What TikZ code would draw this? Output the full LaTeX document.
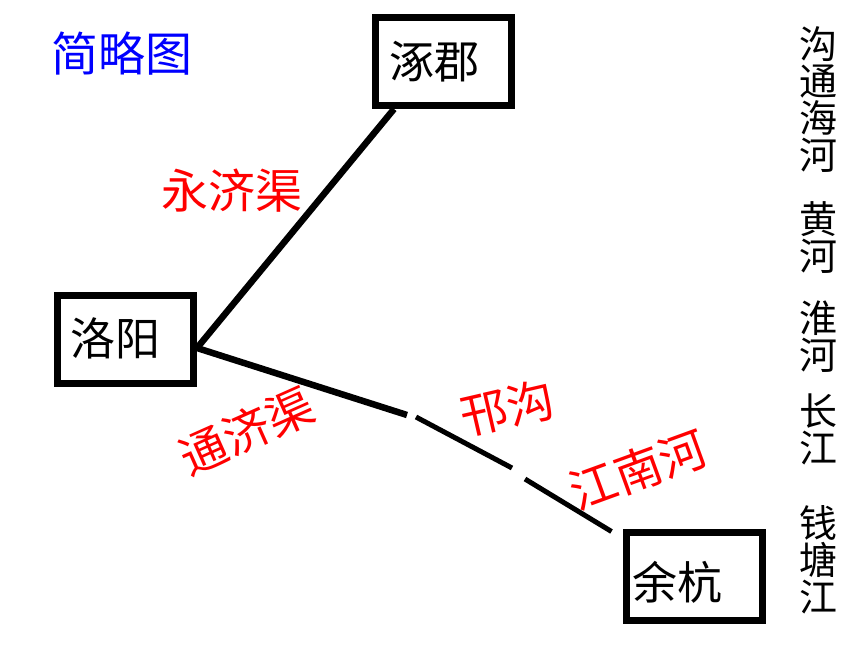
\documentclass[tikz,border=0pt]{standalone}
\usepackage{fontspec}
\setmainfont{Noto Sans CJK SC}
\tikzset{
  citybox/.style={draw=black, line width=7pt, minimum width=136pt, minimum height=88pt, inner sep=0pt},
  citytext/.style={inner sep=0pt, font=\fontsize{45}{45}\selectfont},
  canallabel/.style={text=red, inner sep=0pt, font=\fontsize{47}{47}\selectfont},
  canal/.style={line width=6.5pt},
  canalthin/.style={line width=5pt},
  rivercol/.style={inner sep=0pt, anchor=north, align=center, font=\fontsize{38}{37}\selectfont}
}
\begin{document}
\begin{tikzpicture}[x=1pt,y=-1pt]
\useasboundingbox (0,0) rectangle (860,645);
% title
\node[text=blue, inner sep=0pt, font=\fontsize{47}{47}\selectfont] (title) at (122,54) {简略图};
% cities
\node[citybox] (zj) at (443.5,61.5) {};
\node[citytext] (zjt) at (434,62) {涿郡};
\node[citybox] (ly) at (125.5,339) {};
\node[citytext] (lyt) at (115,338) {洛阳};
\node[citybox] (yh) at (694,576) {};
\node[citytext] (yht) at (677,582) {余杭};
% waypoints on the canal
\coordinate (g1) at (407,415);
\coordinate (g2) at (416,417);
\coordinate (g3) at (512,468);
\coordinate (g4) at (525,479);
% canals
\draw[canal] ([xshift=22pt]zj.south west) -- ([yshift=-9pt]ly.east);
\draw[canal] ([yshift=-9pt]ly.east) -- (g1);
\draw[canalthin] (g2) -- (g3);
\draw[canalthin] (g4) -- ([xshift=-11pt,yshift=-3pt]yh.north west);
% canal labels
\node[canallabel] (yjq) at (232,191) {永济渠};
\node[canallabel, rotate=24] (tjq) at (247,431) {通济渠};
\node[canallabel, rotate=13] (hg) at (507,408) {邗沟};
\node[canallabel, rotate=20] (jnh) at (638,470) {江南河};
% rivers column
\node[rivercol] (r1) at (818,26) {沟\\通\\海\\河};
\node[rivercol] (r2) at (818,201) {黄\\河};
\node[rivercol] (r3) at (818,301) {淮\\河};
\node[rivercol] (r4) at (818,394) {长\\江};
\node[rivercol] (r5) at (818,505) {钱\\塘\\江};
\end{tikzpicture}
\end{document}
